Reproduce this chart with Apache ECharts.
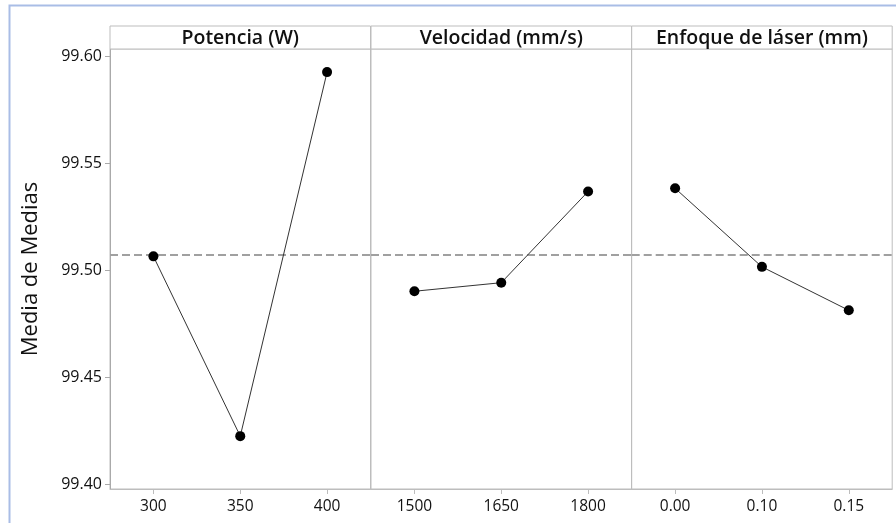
<!DOCTYPE html>
<html>
<head>
<meta charset="utf-8">
<script src="https://cdn.jsdelivr.net/npm/echarts@6/dist/echarts.min.js"></script>
<style>html,body{margin:0;padding:0;background:#fff;}#c{width:896px;height:523px;}</style>
</head>
<body>
<div id="c"></div>
<script>
const panelTitles = ['Potencia (W)', 'Velocidad (mm/s)', 'Enfoque de láser (mm)'];
const potenciaLevels = ['300', '350', '400'];
const velocidadLevels = ['1500', '1650', '1800'];
const enfoqueLevels = ['0.00', '0.10', '0.15'];
const potenciaMeans = [99.5064, 99.4224, 99.5925];
const velocidadMeans = [99.4901, 99.4941, 99.5367];
const enfoqueMeans = [99.5382, 99.5015, 99.4812];
const grandMean = 99.507;
const yTicks = [99.40, 99.45, 99.50, 99.55, 99.60];
const yAxisName = 'Media de Medias';

const levels = [potenciaLevels, velocidadLevels, enfoqueLevels];
const means = [potenciaMeans, velocidadMeans, enfoqueMeans];

const font = '"Open Sans", "Noto Sans", sans-serif';
const panelLeft = [110, 371, 631.7];
const panelW = 260.5;
const gridTop = 49, gridBottom = 34;
const yMin = 99.3977, yMax = 99.6033;

const chart = echarts.init(document.getElementById('c'), null, {renderer: 'canvas'});

const grids = [], xAxes = [], yAxes = [], series = [], graphics = [];
graphics.push({type: 'rect', shape: {x: 9.5, y: 5.5, width: 900, height: 540}, style: {fill: 'none', stroke: '#a9bde6', lineWidth: 2}, z: 0});
for (let i = 0; i < 3; i++) {
  grids.push({left: panelLeft[i], top: gridTop, width: panelW, bottom: gridBottom, show: true, borderColor: '#bdbdbd', borderWidth: 1, backgroundColor: 'transparent'});
  xAxes.push({
    type: 'category', gridIndex: i, data: levels[i], boundaryGap: true,
    axisLine: {show: true, lineStyle: {color: '#bdbdbd'}},
    axisTick: {show: true, alignWithLabel: true, length: 5, lineStyle: {color: '#bdbdbd'}},
    axisLabel: {color: '#111', fontSize: 15.5, fontFamily: font, margin: 10},
    splitLine: {show: false}
  });
  yAxes.push({
    type: 'value', gridIndex: i, min: yMin, max: yMax,
    show: i === 0,
    name: i === 0 ? yAxisName : '', nameLocation: 'middle', nameGap: 68, nameRotate: 90,
    nameTextStyle: {color: '#111', fontSize: 22, fontFamily: font},
    axisLine: {show: true, lineStyle: {color: '#aaaaaa'}},
    axisTick: {show: true, length: 5, lineStyle: {color: '#aaaaaa'}, customValues: yTicks},
    axisLabel: {color: '#111', fontSize: 16, fontFamily: font, margin: 8, customValues: yTicks, formatter: v => v.toFixed(2)},
    splitLine: {show: false}
  });
  series.push({
    type: 'line', xAxisIndex: i, yAxisIndex: i, data: means[i],
    symbol: 'circle', symbolSize: 10,
    itemStyle: {color: '#000'},
    lineStyle: {color: '#333', width: 1},
    z: 5,
    markLine: {
      silent: true, symbol: 'none', label: {show: false}, precision: 4,
      lineStyle: {color: '#a0a0a0', type: [8, 4], width: 2},
      data: [{yAxis: grandMean}], z: 2
    }
  });
  graphics.push({type: 'rect', shape: {x: panelLeft[i], y: 26, width: panelW, height: gridTop - 26}, style: {fill: '#fff', stroke: '#bdbdbd', lineWidth: 1}, z: 1});
  graphics.push({type: 'text', x: panelLeft[i] + panelW / 2, y: 38, style: {text: panelTitles[i], fill: '#111', font: '600 19.5px ' + font, align: 'center', verticalAlign: 'middle'}, z: 2});
}

chart.setOption({
  animation: false,
  backgroundColor: '#fff',
  grid: grids, xAxis: xAxes, yAxis: yAxes, series: series,
  graphic: graphics
});
</script>
</body>
</html>
